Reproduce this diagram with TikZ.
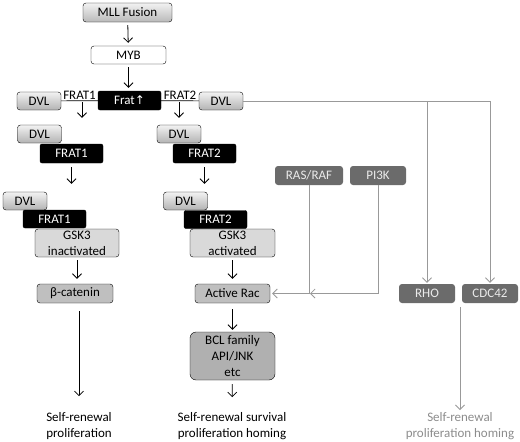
\documentclass[tikz,border=0pt]{standalone}
\usepackage{fontspec}
\setmainfont{Carlito}
\newfontfamily\arrowfont{DejaVu Sans}
\usetikzlibrary{arrows.meta}

\begin{document}
\begin{tikzpicture}[x=1pt, y=-1pt,
    every node/.style={font=\fontsize{13}{16}\selectfont, inner sep=0pt},
    box/.style={draw=black, rounded corners=3pt, minimum height=18pt, align=center},
    dvlbox/.style={box, top color=gray!10, bottom color=gray!60, minimum width=44pt},
    fratbox/.style={box, fill=black, text=white, minimum width=63pt, rounded corners=2pt},
    gskbox/.style={box, fill=gray!30, minimum height=28pt},
    midbox/.style={box, fill=gray!50, minimum height=19pt},
    darkbox/.style={rounded corners=3pt, fill=black!58, text=white!92!black, minimum height=19pt},
    arr/.style={-{Straight Barb[length=4.5pt, width=9pt]}, line width=0.8pt},
    garr/.style={arr, draw=gray!80, line width=0.8pt},
    gline/.style={draw=gray!80, line width=0.8pt}]
    \useasboundingbox (0,0) rectangle (520,442);

    \node[box, top color=gray!10, bottom color=gray!55, minimum width=89pt, minimum height=19pt] (mll) at (127.5,12.5) {MLL Fusion};
    \node[box, fill=white, minimum width=75pt] (myb) at (128.5,55) {MYB};
    \node[fratbox, minimum height=19pt] (frat) at (129.5,100.5) {Frat{\arrowfont\fontsize{12}{14}\selectfont ↑}};
    \node[dvlbox] (dvlA) at (39,101) {DVL};
    \node[dvlbox] (dvlB) at (221,101) {DVL};

    \node[dvlbox] (dvl1) at (39.5,134) {DVL};
    \node[fratbox, minimum height=19pt] (fr1) at (71.5,153.5) {FRAT1};
    \node[dvlbox] (dvl2) at (179,134) {DVL};
    \node[fratbox, minimum height=19pt] (fr2) at (204.5,153.5) {FRAT2};

    \node[dvlbox] (dvl3) at (25,201) {DVL};
    \node[fratbox] (fr3) at (54.5,219) {FRAT1};
    \node[gskbox, minimum width=84pt] (gska) at (77,243) {GSK3\\inactivated};
    \node[dvlbox] (dvl4) at (185.5,201) {DVL};
    \node[fratbox] (fr4) at (215.5,219.5) {FRAT2};
    \node[gskbox, minimum width=85pt] (gskb) at (232.5,243) {GSK3\\activated};

    \node[midbox, minimum width=76pt] (bcat) at (75,293.5) {β-catenin};
    \node[midbox, minimum width=75pt] (rac) at (232.5,293.5) {Active Rac};
    \node[box, fill=gray!62, minimum width=85pt, minimum height=48pt, rounded corners=6pt] (bcl) at (232.5,356) {BCL family\\API/JNK\\etc};

    \node[darkbox, minimum width=68pt] (ras) at (309,175.5) {RAS/RAF};
    \node[darkbox, minimum width=56pt] (pi3k) at (378,175.5) {PI3K};
    \node[darkbox, minimum width=56pt] (rho) at (427,293.5) {RHO};
    \node[darkbox, minimum width=56pt] (cdc) at (490,293.5) {CDC42};

    \node[align=center] (outA) at (79,426) {Self-renewal\\proliferation};
    \node[align=center] (outB) at (232,426) {Self-renewal survival\\proliferation homing};
    \node[align=center, text=gray!90] (outC) at (460,426) {Self-renewal\\proliferation homing};

    \coordinate (j1) at (82,101);
    \coordinate (j2) at (179,101);
    \coordinate (jr) at (427,101);
    \coordinate (jc) at (490,101);
    \coordinate (rc) at (460,307);

    \draw[arr, shorten <=3pt, shorten >=3pt] (mll) -- (myb);
    \draw[arr, shorten <=3pt, shorten >=3pt] (myb) -- (myb |- frat.north);
    \draw[line width=0.7pt] (dvlA) -- node[above=1pt] {FRAT1} (frat);
    \draw[line width=0.7pt] (frat) -- node[above=1pt] {FRAT2} (dvlB);
    \draw[arr, shorten <=1pt, shorten >=7pt] (j1) -- (j1 |- dvl1.north);
    \draw[arr, shorten <=1pt, shorten >=7pt] (j2) -- (j2 |- dvl2.north);
    \draw[arr, shorten <=4pt, shorten >=8pt] (fr1.south) -- (fr1.south |- dvl3.north);
    \draw[arr, shorten <=4pt, shorten >=8pt] (fr2.south) -- (fr2.south |- dvl4.north);
    \draw[arr, shorten <=3pt, shorten >=5pt] (gska) -- (gska |- bcat.north);
    \draw[arr, shorten <=3pt, shorten >=5pt] (gskb) -- (rac);
    \draw[arr, shorten <=8pt, shorten >=16pt] (bcat.south -| outA) -- (outA);
    \draw[arr, shorten <=6pt, shorten >=2pt] (rac) -- (bcl);
    \draw[arr, shorten <=4pt, shorten >=15pt] (bcl) -- (outB);

    \draw[gline] (dvlB) -- (jc);
    \draw[garr, shorten >=1pt] (jc) -- (cdc);
    \draw[garr, shorten >=1pt] (jr) -- (rho);
    \draw[garr, shorten >=2pt] (ras) |- (rac);
    \draw[garr, shorten >=1pt] (pi3k) |- (ras |- rac);
    \draw[garr, shorten >=16pt] (rc) -- (rc |- outC);
\end{tikzpicture}
\end{document}
